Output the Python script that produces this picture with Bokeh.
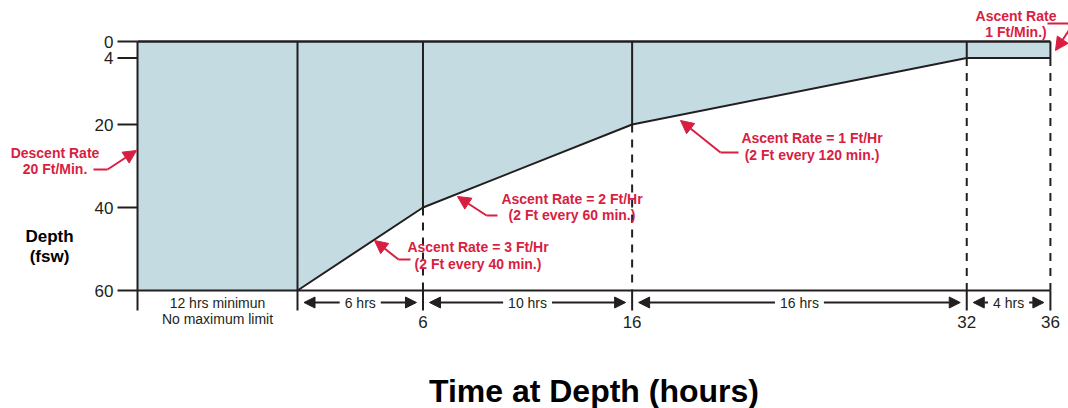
from bokeh.plotting import figure
from bokeh.models import Range1d, Label, Arrow, NormalHead
from bokeh.core.properties import value
from bokeh.embed import file_html
from bokeh.resources import INLINE

# ---------------- data ----------------
bottom_start = -7.65            # drawn start of the (12 hr minimum) bottom phase
times = [0, 6, 16, 32, 36]      # hours
depths = [60, 40, 20, 4, 4]     # fsw
depth_ticks = [0, 4, 20, 40, 60]
time_ticks = [bottom_start, 0, 6, 16, 32, 36]
time_tick_labels = ["", "", "6", "16", "32", "36"]
interval_labels = ["6 hrs", "10 hrs", "16 hrs", "4 hrs"]
bottom_phase_text = ["12 hrs minimun", "No maximum limit"]
x_title = "Time at Depth (hours)"
y_title = ["Depth", "(fsw)"]

# ---------------- style ----------------
RED = "#d81e41"
BLUE = "#c5dbe2"
INK = "#231f20"
FONT = "Liberation Sans"
W, H = 1068, 408
PXH = 20.914   # px per hour
PXF = 4.15     # px per foot


def sx(px):
    return (px - 297) / PXH


def sy(py):
    return (py - 41) / PXF


p = figure(width=W, height=H,
           x_range=Range1d(sx(0), sx(W)), y_range=Range1d(sy(H), sy(0)),
           output_backend="svg", toolbar_location=None,
           x_axis_location=None, y_axis_location=None,
           min_border=0, outline_line_color=None, background_fill_color="white")
p.grid.visible = False

# filled profile
poly_x = [bottom_start] + times + [times[-1], bottom_start]
poly_y = [depths[0]] + depths + [0, 0]
p.patch(poly_x, poly_y, fill_color=BLUE, line_color=None)

# solid verticals inside the fill
p.segment(x0=times, y0=[0] * len(times), x1=times, y1=depths,
          line_color=INK, line_width=2)
# dashed verticals below the profile
p.segment(x0=times[1:], y0=depths[1:], x1=times[1:], y1=[depths[0]] * (len(times) - 1),
          line_color=INK, line_width=2, line_dash="8 7")
# left edge (depth axis line)
p.line([bottom_start, bottom_start], [0, depths[0]], line_color=INK, line_width=2)
# top edge
p.line([bottom_start, times[-1]], [0, 0], line_color=INK, line_width=2.5)
# bottom axis line
p.line([bottom_start, times[-1]], [depths[0], depths[0]], line_color=INK, line_width=2)
# ascent profile
p.line(times, depths, line_color=INK, line_width=2)

# depth axis ticks + labels
tick_len_x = 20 / PXH
p.segment(x0=[bottom_start - tick_len_x] * len(depth_ticks), y0=depth_ticks,
          x1=[bottom_start] * len(depth_ticks), y1=depth_ticks,
          line_color=INK, line_width=2)
p.text(x=[bottom_start - 24 / PXH] * len(depth_ticks), y=depth_ticks,
       text=[str(t) for t in depth_ticks], text_align="right", text_baseline="middle",
       text_font=value(FONT), text_font_size="17px", text_color=INK)

# time axis ticks + labels
tick_len_y = 20 / PXF
p.segment(x0=time_ticks, y0=[depths[0]] * len(time_ticks),
          x1=time_ticks, y1=[depths[0] + tick_len_y] * len(time_ticks),
          line_color=INK, line_width=2)
p.text(x=time_ticks, y=[depths[0] + 31 / PXF] * len(time_ticks), text=time_tick_labels,
       text_align="center", text_baseline="middle",
       text_font=value(FONT), text_font_size="17px", text_color=INK)

# interval dimension arrows under the axis
dim_y = sy(302)
inset = 6.5 / PXH
for t0, t1, txt in zip(times[:-1], times[1:], interval_labels):
    p.add_layout(Arrow(x_start=t0 + inset, y_start=dim_y, x_end=t1 - inset, y_end=dim_y,
                       line_color=INK, line_width=2,
                       start=NormalHead(size=11, fill_color=INK, line_color=INK, line_width=1),
                       end=NormalHead(size=11, fill_color=INK, line_color=INK, line_width=1)))
    p.add_layout(Label(x=(t0 + t1) / 2, y=dim_y, text=txt, text_align="center",
                       text_baseline="middle", text_font=FONT, text_font_size="14px",
                       text_color=INK, background_fill_color="white", padding=(5, 2)))

for txt, py in zip(bottom_phase_text, [302, 318]):
    p.add_layout(Label(x=bottom_start / 2, y=sy(py), text=txt, text_align="center",
                       text_baseline="middle", text_font=FONT, text_font_size="14px",
                       text_color=INK))

# axis titles
p.add_layout(Label(x=(bottom_start + times[-1]) / 2, y=sy(390), text=x_title,
                   text_align="center", text_baseline="middle", text_font=FONT,
                   text_font_size="32px", text_font_style="bold", text_color="black"))
for txt, py in zip(y_title, [236, 256]):
    p.add_layout(Label(x=sx(49), y=sy(py), text=txt, text_align="center",
                       text_baseline="middle", text_font=FONT, text_font_size="17px",
                       text_font_style="bold", text_color="black"))

# red rate annotations: text lines, centre px, line y px, tail, arrow (px positions)
notes = [
    (["Descent Rate", "20 Ft/Min."], 54.5, [152, 168],
     [(93, 169), (107, 169)], [(107, 169), (136, 150)]),
    (["Ascent Rate = 3 Ft/Hr", "(2 Ft every 40 min.)"], 477.5, [246, 263],
     [(410, 259), (398, 259)], [(398, 259), (374, 240)]),
    (["Ascent Rate = 2 Ft/Hr", "(2 Ft every 60 min.)"], 571.5, [198, 214],
     [(497, 215), (486, 215)], [(486, 215), (457, 196)]),
    (["Ascent Rate = 1 Ft/Hr", "(2 Ft every 120 min.)"], 811.5, [137, 154],
     [(738, 152), (720, 152)], [(720, 152), (680, 120)]),
    (["Ascent Rate", "1 Ft/Min.)"], 1015.5, [15, 31],
     [(1047, 23), (1073, 23)], [(1073, 23), (1055, 50)]),
]
for lines, cx, ys, tail, arr in notes:
    for txt, py in zip(lines, ys):
        p.add_layout(Label(x=sx(cx), y=sy(py), text=txt, text_align="center",
                           text_baseline="middle", text_font=FONT, text_font_size="14px",
                           text_font_style="bold", text_color=RED))
    p.add_layout(Arrow(x_start=sx(tail[0][0]), y_start=sy(tail[0][1]),
                       x_end=sx(tail[1][0]), y_end=sy(tail[1][1]),
                       line_color=RED, line_width=2, start=None, end=None))
    p.add_layout(Arrow(x_start=sx(arr[0][0]), y_start=sy(arr[0][1]),
                       x_end=sx(arr[1][0]), y_end=sy(arr[1][1]),
                       line_color=RED, line_width=2, start=None,
                       end=NormalHead(size=13, fill_color=RED, line_color=RED, line_width=1)))

open("out.html", "w").write(file_html(p, INLINE))
